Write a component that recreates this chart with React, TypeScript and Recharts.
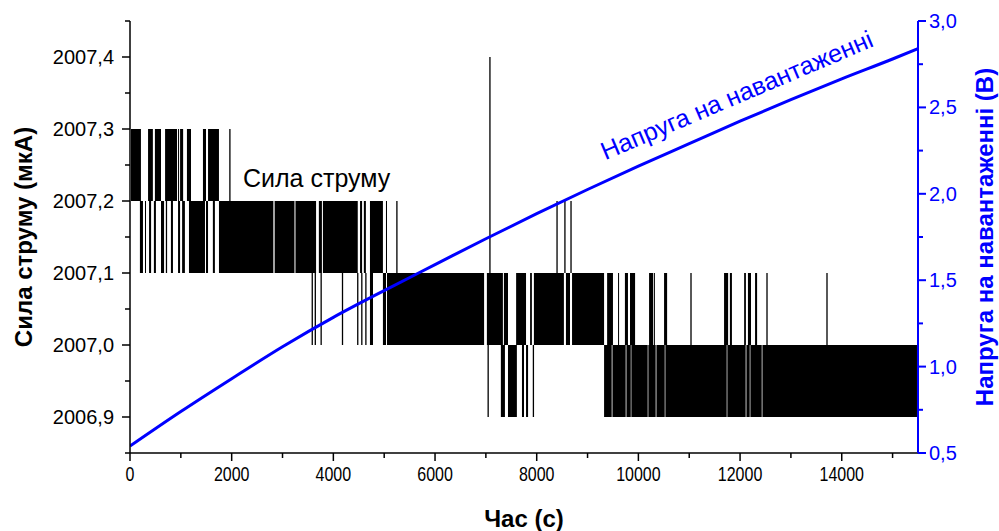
import React from 'react';
import { ComposedChart, Line, XAxis, YAxis, ReferenceArea } from 'recharts';

const FONT = '"Liberation Sans", Arial, sans-serif';
const BLUE = '#0000ff';

// axis ticks (minor ones included, labels only on the major ones)
const timeTicks = [0, 1000, 2000, 3000, 4000, 5000, 6000, 7000, 8000, 9000, 10000, 11000, 12000, 13000, 14000, 15000];
const currentTicks = [2006.85, 2006.9, 2006.95, 2007.0, 2007.05, 2007.1, 2007.15, 2007.2, 2007.25, 2007.3, 2007.35, 2007.4, 2007.45];
const voltageTicks = [0.5, 0.75, 1.0, 1.25, 1.5, 1.75, 2.0, 2.25, 2.5, 2.75, 3.0];

// load voltage (V) vs time (s)
const voltageTime = [0, 1000, 2000, 3000, 4000, 5000, 6000, 7000, 8000, 9000, 10000, 11000, 12000, 13000, 14000, 15000, 15500];
const voltageValues = [0.54, 0.74, 0.93, 1.115, 1.285, 1.44, 1.59, 1.74, 1.885, 2.025, 2.16, 2.29, 2.42, 2.545, 2.665, 2.78, 2.84];

// current: stretches where it toggles fast between two levels [from s, to s]
const band32: [number, number][] = [
  [20, 215], [355, 450], [490, 610], [690, 925], [945, 965], [985, 1045], [1120, 1200], [1435, 1495], [1535, 1750],
];
const band21: [number, number][] = [
  [195, 255], [295, 315], [375, 415], [470, 510], [610, 670], [705, 730], [805, 845], [945, 985],
  [1025, 1080], [1160, 1475], [1495, 1535], [1630, 1670], [1750, 2820], [2845, 3235], [3255, 3660],
  [3715, 3775], [3795, 4480], [4525, 4565], [4600, 4640], [4720, 4975], [5035, 5055],
];
const band10: [number, number][] = [
  [4720, 4780], [4975, 5035], [5055, 6965], [7020, 7335], [7355, 7435], [7595, 7790], [7870, 7905],
  [7945, 8535], [8575, 8655], [8695, 9325], [9385, 9500], [9600, 9620], [9735, 9795], [9835, 9935],
  [10210, 10290], [10305, 10325], [10505, 10565], [11685, 11765], [11800, 11840], [12080, 12115],
  [12155, 12215], [12295, 12335],
];
const band09: [number, number][] = [
  [7295, 7375], [7435, 7610], [7710, 7750], [7790, 7830], [9325, 9475], [9490, 9750], [9765, 9850],
  [9862, 10183], [10196, 10340], [10355, 10518], [10531, 11737], [11750, 12110], [12125, 12190],
  [12203, 12426], [12440, 15480],
];

// current: single switches [time s, low, high]
const currentSpikes: [number, number, number][] = [
  [1965, 2007.2, 2007.3],
  [5250, 2007.1, 2007.2],
  [3585, 2007.0, 2007.1], [3645, 2007.0, 2007.1], [3760, 2007.0, 2007.1], [4180, 2007.0, 2007.1],
  [4480, 2007.0, 2007.1], [4560, 2007.0, 2007.1], [4640, 2007.0, 2007.1],
  [7080, 2007.1, 2007.4], [7045, 2006.9, 2007.0], [7935, 2006.9, 2007.0],
  [8400, 2007.1, 2007.2], [8555, 2007.1, 2007.2], [8675, 2007.1, 2007.2],
  [11035, 2007.0, 2007.1], [12530, 2007.0, 2007.1], [13710, 2007.0, 2007.1],
];

const blocks = [
  ...band32.map(([a, b]) => [a, b, 2007.2, 2007.3]),
  ...band21.map(([a, b]) => [a, b, 2007.1, 2007.2]),
  ...band10.map(([a, b]) => [a, b, 2007.0, 2007.1]),
  ...band09.map(([a, b]) => [a, b, 2006.9, 2007.0]),
];

const voltageData = voltageTime.map((t, i) => ({ t, v: voltageValues[i] }));
const spikeData = currentSpikes.flatMap(([t, lo, hi]) => [
  { t, i: lo },
  { t, i: hi },
  { t, i: null },
]);

const fmt = (v: number) => v.toFixed(1).replace('.', ',');

const TimeTick = (props: any) => {
  const { x, y, payload } = props;
  const v = payload.value;
  const major = v % 2000 === 0;
  return (
    <g>
      <line x1={x} x2={x} y1={y} y2={y + (major ? 8 : 5)} stroke="#000" strokeWidth={1.5} />
      {major && (
        <text transform={`translate(${x},${y + 28}) scale(0.8,1)`} textAnchor="middle" fontSize={20} fontFamily={FONT} fill="#000">
          {v}
        </text>
      )}
    </g>
  );
};

const CurrentTick = (props: any) => {
  const { x, y, payload } = props;
  const v = payload.value;
  const major = Math.abs(v * 10 - Math.round(v * 10)) < 1e-6;
  return (
    <g>
      <line x1={x} x2={x - (major ? 8 : 5)} y1={y} y2={y} stroke="#000" strokeWidth={1.5} />
      {major && (
        <text x={x - 16} y={y} dy="0.35em" textAnchor="end" fontSize={20} fontFamily={FONT} fill="#000">
          {fmt(v)}
        </text>
      )}
    </g>
  );
};

const VoltageTick = (props: any) => {
  const { x, y, payload } = props;
  const v = payload.value;
  const major = Math.abs(v * 2 - Math.round(v * 2)) < 1e-6;
  return (
    <g>
      <line x1={x} x2={x + (major ? 8 : 5)} y1={y} y2={y} stroke={BLUE} strokeWidth={2} />
      {major && (
        <text x={x + 11} y={y} dy="0.35em" textAnchor="start" fontSize={20} fontFamily={FONT} fill={BLUE}>
          {fmt(v)}
        </text>
      )}
    </g>
  );
};

export default function App() {
  return (
    <div style={{ position: 'absolute', left: 0, top: 0, width: 999, height: 531, background: '#fff' }}>
      <ComposedChart width={999} height={531} margin={{ top: 21, right: 21, bottom: 38, left: 40 }}>
        <XAxis
          type="number"
          dataKey="t"
          domain={[0, 15500]}
          ticks={timeTicks}
          interval={0}
          allowDataOverflow
          height={40}
          tickLine={false}
          tickSize={0}
          tickMargin={0}
          tick={(p: any) => <TimeTick {...p} />}
          axisLine={{ stroke: '#000', strokeWidth: 1.5 }}
        />
        <YAxis
          yAxisId="left"
          type="number"
          domain={[2006.85, 2007.45]}
          ticks={currentTicks}
          interval={0}
          allowDataOverflow
          width={90}
          tickLine={false}
          tickSize={0}
          tickMargin={0}
          tick={(p: any) => <CurrentTick {...p} />}
          axisLine={{ stroke: '#000', strokeWidth: 1.5 }}
        />
        <YAxis
          yAxisId="right"
          orientation="right"
          type="number"
          domain={[0.5, 3.0]}
          ticks={voltageTicks}
          interval={0}
          allowDataOverflow
          width={60}
          tickLine={false}
          tickSize={0}
          tickMargin={0}
          tick={(p: any) => <VoltageTick {...p} />}
          axisLine={{ stroke: BLUE, strokeWidth: 2 }}
        />
        {blocks.map(([a, b, lo, hi], k) => (
          <ReferenceArea
            key={k}
            yAxisId="left"
            x1={a}
            x2={b}
            y1={lo}
            y2={hi}
            fill="#000"
            fillOpacity={1}
            stroke="none"
          />
        ))}
        <Line
          yAxisId="left"
          data={spikeData}
          dataKey="i"
          type="linear"
          stroke="#000"
          strokeWidth={1.3}
          dot={false}
          connectNulls={false}
          isAnimationActive={false}
        />
        <Line
          yAxisId="right"
          data={voltageData}
          dataKey="v"
          type="monotone"
          stroke={BLUE}
          strokeWidth={3}
          dot={false}
          isAnimationActive={false}
        />
      </ComposedChart>
      <svg width={999} height={531} style={{ position: 'absolute', left: 0, top: 0, pointerEvents: 'none' }} fontFamily={FONT}>
        <text transform="translate(32,237) rotate(-90)" textAnchor="middle" fontSize={24} fontWeight="bold" fill="#000">
          Сила струму (мкА)
        </text>
        <text transform="translate(993,237) rotate(-90)" textAnchor="middle" fontSize={24} fontWeight="bold" fill={BLUE}>
          Напруга на навантаженні (В)
        </text>
        <text x={524} y={527} textAnchor="middle" fontSize={24} fontWeight="bold" fill="#000">
          Час (с)
        </text>
        <text x={243} y={187} fontSize={25} fill="#000">
          Сила струму
        </text>
        <text transform="translate(740,103) rotate(-23)" textAnchor="middle" fontSize={25} fill={BLUE}>
          Напруга на навантаженні
        </text>
      </svg>
    </div>
  );
}
